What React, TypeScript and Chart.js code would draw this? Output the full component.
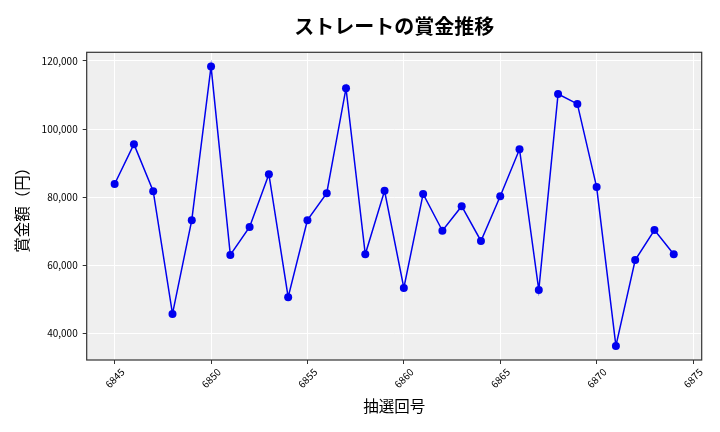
import { useEffect, useRef } from "react";
import { Chart, registerables } from "chart.js";

Chart.register(...registerables);

const draws = [
  6845, 6846, 6847, 6848, 6849, 6850, 6851, 6852, 6853, 6854,
  6855, 6856, 6857, 6858, 6859, 6860, 6861, 6862, 6863, 6864,
  6865, 6866, 6867, 6868, 6869, 6870, 6871, 6872, 6873, 6874,
];
const prizes = [
  83900, 95600, 81800, 45800, 73300, 118400, 63100, 71300, 86800, 50700,
  73300, 81200, 112000, 63300, 81900, 53400, 81000, 70200, 77400, 67200,
  80300, 94100, 52800, 110300, 107400, 83000, 36400, 61600, 70400, 63300,
];
const xTicks = [6845, 6850, 6855, 6860, 6865, 6870, 6875];
const yTicks = [40000, 60000, 80000, 100000, 120000];

const FONT = "'Noto Sans CJK JP', 'Noto Sans', sans-serif";

// grey plot background and dark frame, like the matplotlib style
const frame = {
  id: "frame",
  beforeDraw(chart: Chart) {
    const { ctx, chartArea: a } = chart;
    ctx.save();
    ctx.fillStyle = "#efefef";
    ctx.fillRect(a.left, a.top, a.right - a.left, a.bottom - a.top);
    ctx.restore();
  },
  afterDraw(chart: Chart) {
    const { ctx, chartArea: a } = chart;
    ctx.save();
    ctx.strokeStyle = "#333333";
    ctx.lineWidth = 1.2;
    ctx.strokeRect(a.left, a.top, a.right - a.left, a.bottom - a.top);
    ctx.restore();
  },
};

export default function App() {
  const canvasRef = useRef<HTMLCanvasElement>(null);

  useEffect(() => {
    if (!canvasRef.current) return;

    const chart = new Chart(canvasRef.current, {
      type: "line",
      data: {
        datasets: [
          {
            data: draws.map((d, i) => ({ x: d, y: prizes[i] })),
            borderColor: "#0000ee",
            backgroundColor: "#0000ee",
            borderWidth: 1.5,
            pointRadius: 4,
            pointHoverRadius: 4,
            pointBorderWidth: 0,
            tension: 0,
          },
        ],
      },
      options: {
        animation: false,
        responsive: true,
        maintainAspectRatio: false,
        layout: { padding: { top: 0, right: 18.3, bottom: 0, left: 0 } },
        plugins: {
          legend: { display: false },
          tooltip: { enabled: false },
          title: {
            display: true,
            fullSize: false,
            text: "ストレートの賞金推移",
            color: "#000",
            font: { family: FONT, size: 20, weight: "bold", lineHeight: 1.2 },
            padding: { top: 14, bottom: 14.3 },
          },
        },
        scales: {
          x: {
            type: "linear",
            min: 6843.55,
            max: 6875.45,
            afterBuildTicks: (scale) => {
              scale.ticks = xTicks.map((v) => ({ value: v }));
            },
            afterFit: (scale) => {
              scale.height = 72;
            },
            border: { display: false },
            grid: { color: "#ffffff", lineWidth: 1, tickColor: "#333333", tickLength: 4 },
            ticks: {
              color: "#000",
              font: { family: FONT, size: 10 },
              minRotation: 45,
              maxRotation: 45,
              padding: 2,
              labelOffset: 8,
              callback: (v) => String(v),
            },
            title: {
              display: true,
              text: "抽選回号",
              color: "#000",
              font: { family: FONT, size: 15.5, lineHeight: 1.2 },
              padding: { top: 0, bottom: 17 },
            },
          },
          y: {
            min: 32283,
            max: 122540,
            afterBuildTicks: (scale) => {
              scale.ticks = yTicks.map((v) => ({ value: v }));
            },
            afterFit: (scale) => {
              scale.width = 86.7;
            },
            border: { display: false },
            grid: { color: "#ffffff", lineWidth: 1, tickColor: "#333333", tickLength: 4 },
            ticks: {
              color: "#000",
              font: { family: FONT, size: 10 },
              padding: 5,
              callback: (v) => Number(v).toLocaleString("en-US"),
            },
            title: {
              display: true,
              text: "賞金額（円）",
              color: "#000",
              font: { family: FONT, size: 15.5, lineHeight: 1.2 },
              padding: { top: 13, bottom: 0 },
            },
          },
        },
      },
      plugins: [frame],
    });

    return () => {
      chart.destroy();
    };
  }, []);

  return (
    <div style={{ position: "fixed", left: 0, top: 0, width: 720, height: 432, background: "#fff" }}>
      <canvas ref={canvasRef}></canvas>
    </div>
  );
}
